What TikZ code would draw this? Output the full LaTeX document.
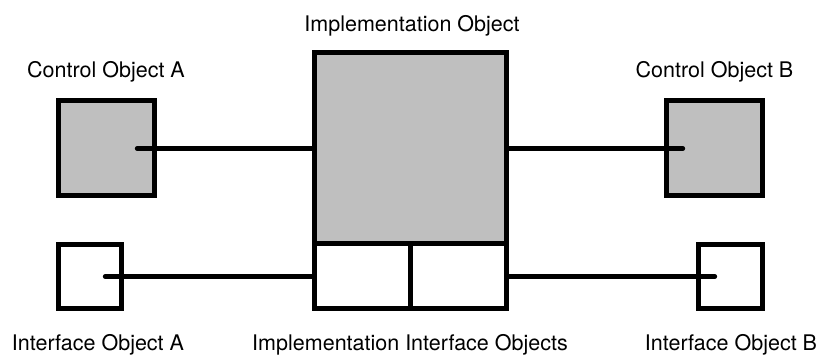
\documentclass[tikz,border=0pt]{standalone}
\usepackage{fontspec}
\setmainfont{TeX Gyre Heros}
\definecolor{box-gray}{gray}{0.75}

\begin{document}
\begin{tikzpicture}[x=1pt, y=-1pt,
	obj/.style={draw, inner sep=0pt, line width=5pt},
	ctrl/.style={obj, fill=box-gray},
	iface/.style={obj, fill=white},
	lbl/.style={anchor=base, font=\fontsize{21.5}{24}\selectfont},
	wire/.style={line width=4.3pt, line cap=round}]

			\useasboundingbox (0,0) rectangle (822,358);

			% objects
			\node[ctrl, minimum width=96pt, minimum height=95pt] (ctrlA) at (106,148.5) {};
			\node[ctrl, minimum width=192pt, minimum height=191pt] (impl) at (410,148.5) {};
			\node[ctrl, minimum width=96pt, minimum height=95pt] (ctrlB) at (714,148.5) {};

			\node[iface, minimum width=63pt, minimum height=63pt] (ifA) at (89.5,276.5) {};
			\node[iface, minimum width=96pt, minimum height=64pt] (implIfA) at (362,276) {};
			\node[iface, minimum width=96pt, minimum height=64pt] (implIfB) at (458,276) {};
			\node[iface, minimum width=64pt, minimum height=63pt] (ifB) at (730,276.5) {};

			% free ends of the wires inside the small boxes
			\coordinate (ctrlAend) at (137,148.5);
			\coordinate (ctrlBend) at (683,148.5);
			\coordinate (ifAend) at (105,276.5);
			\coordinate (ifBend) at (715,276.5);

			\draw[wire] (ctrlAend) -- (impl.west |- ctrlAend);
			\draw[wire] (impl.east |- ctrlBend) -- (ctrlBend);
			\draw[wire] (ifAend) -- (implIfA.west |- ifAend);
			\draw[wire] (implIfB.east |- ifBend) -- (ifBend);

			% labels
			\node[lbl] (ctrlAlbl) at (106,78) {Control Object A};
			\node[lbl] (implLbl) at (412,32) {Implementation Object};
			\node[lbl] (ctrlBlbl) at (714.5,78) {Control Object B};
			\node[lbl] (ifAlbl) at (98,350) {Interface Object A};
			\node[lbl] (implIfLbl) at (410,350) {Implementation Interface Objects};
			\node[lbl] (ifBlbl) at (731,350) {Interface Object B};

\end{tikzpicture}
\end{document}
